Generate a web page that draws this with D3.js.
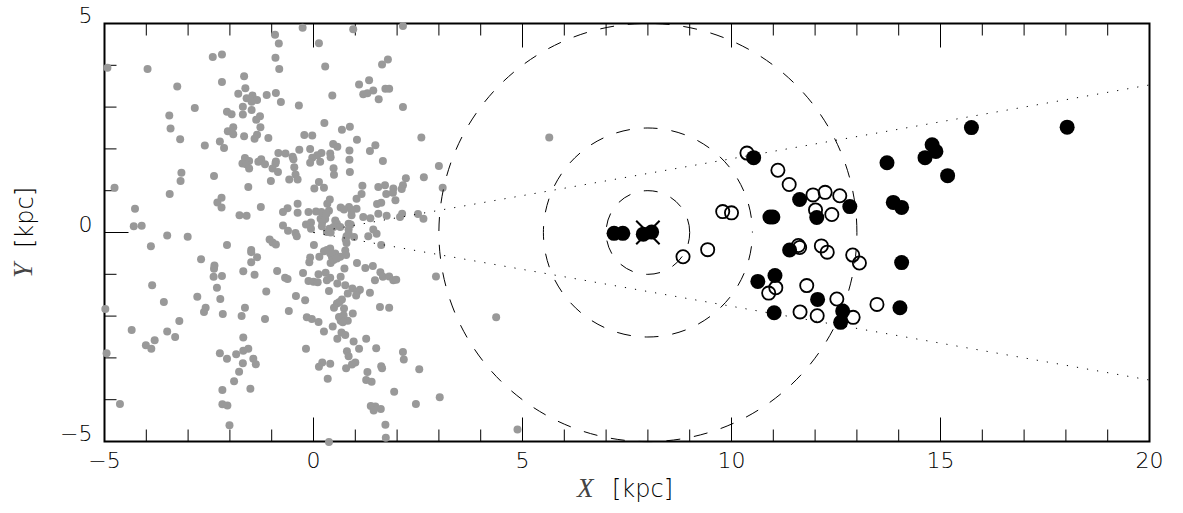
<!DOCTYPE html>
<html><head><meta charset="utf-8">
<script src="https://cdnjs.cloudflare.com/ajax/libs/d3/7.8.5/d3.min.js"></script>
<style>html,body{margin:0;padding:0;background:#fff}svg{display:block}
text{font-family:"DejaVu Sans ExtraLight","DejaVu Sans";font-weight:200;fill:#000}</style>
</head><body><svg id="c" width="1183" height="513"></svg>
<script>
const xTicksMajor=[-5,0,5,10,15,20], yTicksMajor=[-5,0,5];
const xTicksMinor=d3.range(-5,21), yTicksMinor=d3.range(-5,6);
const ringCentre=[8,0], ringRadii=[1,2.5,5];
const wedgeLines=[[[0,0],[20,3.53]],[[0,0],[20,-3.53]]];
const sunMark=[8,0];
const grayStars=[[-0.92,4.73],[-0.83,4.52],[-2.41,4.2],[-2.19,4.26],[-0.91,4.18],[-0.82,3.91],[-4.93,3.94],[-3.97,3.91],[-1.66,3.74],[-2.19,3.6],[-1.63,3.45],[-3.26,3.49],[-1.8,3.32],[-1.46,3.28],[-0.9,3.34],[-1.12,3.29],[-1.6,3.21],[-1.5,3.19],[-1.35,3.17],[-1.48,3.13],[-0.78,3.12],[-0.35,3.04],[-2.84,2.98],[-1.69,3.01],[-1.48,2.93],[-2.07,2.89],[-1.96,2.83],[-1.69,2.82],[-3.45,2.8],[-1.28,2.78],[-1.37,2.7],[-1.92,2.52],[-1.27,2.52],[-3.42,2.49],[-2.05,2.42],[-1.92,2.35],[-1.35,2.34],[-1.41,2.24],[-1.66,2.3],[-1.08,2.26],[-3.19,2.23],[-2.24,2.18],[-2.6,2.08],[-2.14,2.02],[-0.34,1.98],[-0.84,1.9],[-0.67,1.89],[-0.5,1.81],[-0.48,1.75],[-1.64,1.78],[-1.54,1.71],[-1.25,1.75],[-0.9,1.7],[-1.32,1.69],[-1.7,1.65],[-1.61,1.63],[-1.16,1.63],[-0.91,1.65],[-0.46,1.56],[-1.54,1.53],[-0.98,1.53],[-0.85,1.45],[-3.16,1.43],[-2.38,1.35],[-0.43,1.39],[-0.38,1.27],[-0.58,1.27],[-1.02,1.23],[-3.18,1.23],[-1.56,1.09],[-4.76,1.07],[-3.44,0.92],[-2.2,0.83],[-2.3,0.72],[-0.38,0.69],[-2.2,0.6],[-1.26,0.61],[-4.27,0.57],[-0.62,0.58],[-0.73,0.49],[-0.38,0.47],[-1.77,0.41],[-1.6,0.4],[-0.73,0.17],[-4.3,0.15],[-4.11,0.16],[-0.61,0.04],[-0.43,-0.01],[-0.4,-0.09],[-3.5,-0.07],[-3.01,-0.1],[-1.05,-0.17],[-0.98,-0.24],[-0.9,-0.29],[-3.89,-0.33],[-2.07,-0.3],[-1.49,-0.42],
[-0.26,4.9],[0.95,4.86],[2.14,4.94],[0.13,4.53],[0.28,3.97],[1.78,4.14],[1.64,4.02],[1.33,3.64],[1.09,3.54],[1.19,3.31],[1.29,3.33],[1.43,3.4],[1.72,3.44],[1.81,3.44],[0.45,3.28],[1.56,3.19],[2.14,3.0],[0.26,2.62],[0.68,2.46],[0.87,2.53],[-0.22,2.33],[-0.03,2.32],[2.58,2.27],[5.64,2.27],[1.04,2.22],[0.47,2.12],[0.57,2.05],[1.48,2.09],[1.35,1.95],[-0.08,2.0],[0.86,1.96],[0.19,1.9],[0.4,1.89],[0.09,1.85],[-0.03,1.79],[0.41,1.8],[0.86,1.74],[-0.08,1.67],[0.16,1.69],[1.66,1.71],[3.0,1.59],[0.48,1.54],[0.87,1.45],[0.49,1.38],[2.64,1.32],[2.21,1.3],[0.13,1.21],[2.14,1.13],[1.17,1.12],[1.55,1.09],[1.71,1.13],[1.91,1.05],[0.02,1.05],[0.25,1.07],[2.11,1.04],[3.09,1.07],[1.9,0.95],[1.74,0.92],[1.15,0.92],[1.03,0.81],[0.39,0.79],[1.96,0.77],[1.62,0.71],[1.52,0.68],[0.33,0.69],[0.65,0.6],[0.85,0.61],[0.73,0.55],[1.03,0.57],[0.91,0.53],[0.37,0.52],[0.91,0.41],[-0.12,0.49],[0.06,0.5],[0.19,0.49],[0.31,0.45],[1.55,0.45],[1.19,0.37],[1.36,0.34],[1.75,0.4],[2.07,0.37],[2.12,0.45],[2.5,0.44],[2.63,0.33],[0.17,0.33],[0.28,0.32],[0.21,0.25],[0.52,0.29],[0.56,0.21],[-0.06,0.24],[-0.18,0.19],[-0.06,0.09],[0.2,0.15],[0.38,0.09],[0.32,0.01],[0.41,0.0],[0.48,0.13],[0.64,0.13],[0.84,0.21],[0.89,0.19],[0.84,0.07],[1.43,0.07],[1.51,-0.03],[1.31,-0.09],[0.97,-0.11],[0.79,-0.09],[0.77,-0.17],[0.84,-0.03],[0.79,-0.25],[0.01,-0.3],[1.62,-0.3],[0.32,-0.42],[0.4,-0.38],[0.76,-0.43],
[-0.08,-0.6],[-0.1,-0.71],[0.14,-0.58],[0.25,-0.45],[0.44,-0.58],[0.4,-0.5],[0.52,-0.5],[0.64,-0.58],[0.78,-0.54],[0.41,-0.73],[0.48,-0.66],[0.56,-0.62],[0.74,-0.86],[1.04,-0.73],[1.24,-0.85],[1.42,-0.8],[-0.25,-0.97],[-0.68,-1.08],[-0.62,-1.11],[0.12,-1.0],[0.29,-0.96],[0.4,-1.08],[0.32,-1.14],[-0.12,-1.16],[0,-1.18],[0.1,-1.19],[0.65,-1.06],[0.57,-1.22],[1.6,-0.95],[1.66,-1.06],[1.81,-1.05],[1.47,-1.14],[1.91,-1.14],[1.98,-1.13],[2.93,-1.05],[0.76,-1.26],[0.93,-1.34],[1.11,-1.37],[1.05,-1.42],[1.02,-1.51],[0.82,-1.46],[1.35,-1.44],[0.37,-1.4],[-0.42,-1.52],[-0.2,-1.62],[-0.59,-1.88],[0.68,-1.6],[0.62,-1.66],[0.56,-1.7],[0.49,-1.8],[0.73,-1.82],[0.94,-1.94],[1.59,-1.78],[1.81,-1.8],[4.37,-2.03],[-0.16,-2.03],[-0.04,-2.07],[0.12,-2.14],[0.61,-2.02],[0.72,-1.98],[0.65,-2.11],[0.82,-2.11],[0.7,-2.15],[0.46,-2.25],[0.25,-2.37],[0.67,-2.39],[0.76,-2.45],[0.57,-2.54],[1.26,-2.54],[0.96,-2.61],[-0.18,-2.78],[1.09,-2.78],[1.5,-2.77],[0.8,-2.84],[2.14,-2.86],[0.84,-2.96],[2.16,-3.04],[1.0,-3.11],[0.92,-3.16],[0.4,-3.14],[0.21,-3.11],[0.13,-3.21],[0.78,-3.25],[1.62,-3.2],[1.64,-3.25],[2.53,-3.27],[1.29,-3.34],[0.34,-3.5],[1.26,-3.53],[1.39,-3.57],[1.93,-3.81],[3.02,-3.94],[2.45,-4.1],[1.37,-4.15],[1.48,-4.16],[1.61,-4.22],[1.44,-4.26],[1.72,-4.6],[4.88,-4.71],[1.73,-4.91],[0.37,-5.01],
[-2.69,-0.64],[-2.37,-0.79],[-2.38,-0.87],[-2.39,-1.06],[-2.19,-1.04],[-1.49,-0.47],[-1.35,-0.59],[-1.49,-0.71],[-1.68,-0.93],[-1.41,-1.01],[-0.87,-0.92],[-3.86,-1.26],[-2.31,-1.32],[-1.13,-1.41],[-2.78,-1.54],[-2.23,-1.59],[-3.58,-1.66],[-1.64,-1.8],[-2.58,-1.8],[-2.62,-1.9],[-2.17,-1.95],[-1.72,-2.0],[-4.98,-1.83],[-1.16,-2.07],[-3.21,-2.12],[-4.35,-2.33],[-3.5,-2.37],[-3.31,-2.5],[-3.8,-2.58],[-4.01,-2.7],[-3.88,-2.78],[-4.95,-2.89],[-1.68,-2.51],[-1.56,-2.78],[-1.68,-2.83],[-1.85,-2.91],[-2.24,-2.89],[-2.07,-3.02],[-1.44,-3.02],[-1.38,-3.15],[-1.69,-3.13],[-1.78,-3.33],[-1.9,-3.56],[-2.18,-3.77],[-1.51,-3.74],[-4.63,-4.1],[-2.18,-4.11],[-2.06,-4.14],[-2.01,-4.61]];
const openStars=[[10.37,1.9],[11.11,1.49],[11.38,1.15],[11.95,0.9],[12.24,0.96],[12.59,0.88],[12.01,0.54],[12.4,0.43],[9.79,0.5],[10.0,0.47],[9.43,-0.41],[8.84,-0.58],[11.6,-0.31],[11.63,-0.36],[12.15,-0.32],[12.29,-0.47],[12.9,-0.54],[13.06,-0.73],[11.06,-1.32],[10.89,-1.45],[11.8,-1.27],[12.52,-1.59],[13.48,-1.72],[11.64,-1.9],[12.05,-1.99],[12.91,-2.03]];
const filledStars=[[7.19,-0.02],[7.4,-0.02],[7.89,-0.04],[8.09,0.01],[10.53,1.79],[11.63,0.79],[10.92,0.37],[10.99,0.37],[12.04,0.36],[12.83,0.62],[11.39,-0.42],[10.63,-1.17],[11.04,-1.03],[11.02,-1.92],[12.06,-1.6],[12.66,-1.88],[12.61,-2.15],[13.72,1.67],[15.74,2.51],[14.8,2.1],[14.89,1.94],[14.63,1.79],[15.17,1.36],[13.87,0.72],[14.07,0.6],[14.07,-0.72],[14.03,-1.8],[18.03,2.52]];

const svg=d3.select("#c");
const x=d3.scaleLinear().domain([-5,20]).range([104.5,1149.5]);
const y=d3.scaleLinear().domain([-5,5]).range([441.5,23.5]);
const fmt=d=>String(d).replace("-","\u2212");

svg.append("rect").attr("x",x(-5)).attr("y",y(5)).attr("width",x(20)-x(-5)).attr("height",y(-5)-y(5))
  .attr("fill","none").attr("stroke","#000").attr("stroke-width",2);

function ax(gen,vals,len,tf,tx,ty){
  const g=svg.append("g").attr("transform",`translate(${tx},${ty})`)
    .call(gen.tickValues(vals).tickSize(len).tickSizeOuter(0).offset(0).tickFormat(tf||""));
  g.select(".domain").remove();
  g.selectAll("line").attr("stroke","#000").attr("stroke-width",1);
  return g;
}
ax(d3.axisBottom(x),xTicksMinor,-12,null,0,y(-5));
ax(d3.axisTop(x),xTicksMinor,-12,null,0,y(5));
ax(d3.axisLeft(y),yTicksMinor,-12,null,x(-5),0);
const bx=ax(d3.axisBottom(x),xTicksMajor,-24,fmt,0,y(-5));
bx.selectAll("text").attr("y",26).attr("dy",0).attr("font-size",22).attr("text-anchor","middle");
ax(d3.axisTop(x),xTicksMajor,-24,null,0,y(5));
const ly=ax(d3.axisLeft(y),yTicksMajor,-24,fmt,x(-5),0);
ly.selectAll("text").attr("x",-12).attr("y",-1).attr("dy",0).attr("font-size",22).attr("text-anchor","end");

svg.append("g").selectAll("circle").data(grayStars).join("circle")
  .attr("cx",d=>x(d[0])).attr("cy",d=>y(d[1])).attr("r",4).attr("fill","#999");

const scale=x(1)-x(0);
const ringOffset=i=>i===1?13:0;
svg.append("g").selectAll("path").data(ringRadii).join("path")
  .attr("d",r=>{const p=d3.path();const cx=x(ringCentre[0]),cy=y(ringCentre[1]);
    p.moveTo(cx+r*scale,cy);p.arc(cx,cy,r*scale,0,2*Math.PI,true);return p.toString();})
  .attr("fill","none").attr("stroke","#000").attr("stroke-width",1)
  .attr("stroke-dasharray","14 13.87").attr("stroke-dashoffset",(r,i)=>ringOffset(i));

const line=d3.line().x(d=>x(d[0])).y(d=>y(d[1]));
svg.append("g").selectAll("path").data(wedgeLines).join("path")
  .attr("d",line).attr("fill","none").attr("stroke","#000").attr("stroke-width",1).attr("stroke-dasharray","1.2 9");

svg.append("g").selectAll("circle").data(openStars).join("circle")
  .attr("cx",d=>x(d[0])).attr("cy",d=>y(d[1])).attr("r",6.6).attr("fill","none").attr("stroke","#000").attr("stroke-width",1.8);
svg.append("g").selectAll("circle").data(filledStars).join("circle")
  .attr("cx",d=>x(d[0])).attr("cy",d=>y(d[1])).attr("r",7.5).attr("fill","#000");

const s=0.28;
svg.append("path").attr("d",line([[sunMark[0]-s,sunMark[1]-s],[sunMark[0]+s,sunMark[1]+s]])+line([[sunMark[0]-s,sunMark[1]+s],[sunMark[0]+s,sunMark[1]-s]]))
  .attr("stroke","#000").attr("stroke-width",2).attr("fill","none");

svg.append("text").attr("x",577).attr("y",497).attr("font-size",27)
  .attr("style","font-family:'Liberation Serif';font-style:italic;font-weight:400;fill:#444").text("X");
svg.append("text").attr("x",612).attr("y",497).attr("font-size",24).text("[kpc]");
svg.append("text").attr("transform","translate(32,278) rotate(-90)").attr("font-size",27)
  .attr("style","font-family:'Liberation Serif';font-style:italic;font-weight:400;fill:#444").text("Y");
svg.append("text").attr("transform","translate(33,248) rotate(-90)").attr("font-size",24).text("[kpc]");
</script></body></html>
